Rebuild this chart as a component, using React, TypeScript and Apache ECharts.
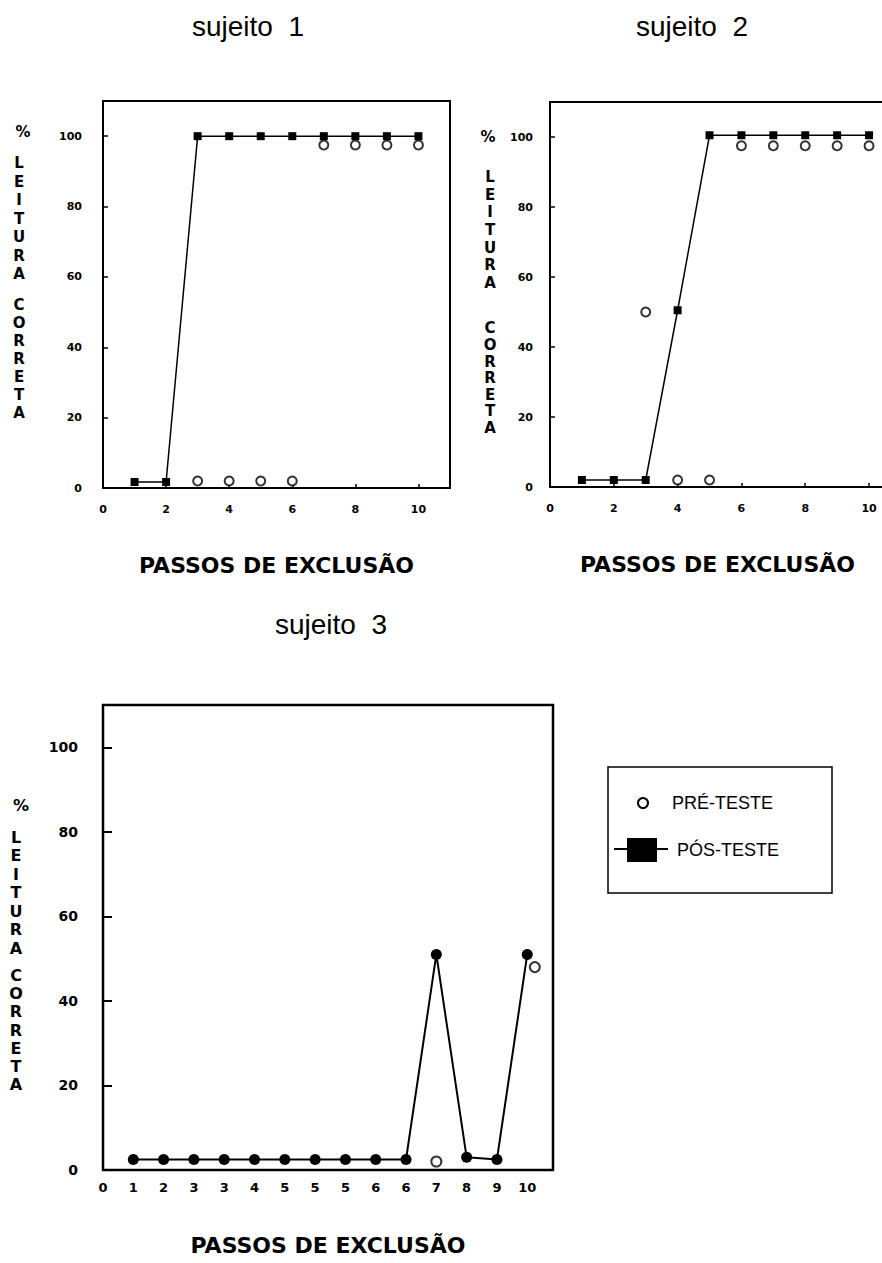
import React, { useEffect, useRef } from "react";
import * as echarts from "echarts";

// ---- data ----
const steps = [1, 2, 3, 4, 5, 6, 7, 8, 9, 10];
const s1Pos = [1.7, 1.7, 100, 100, 100, 100, 100, 100, 100, 100];
const s1Pre = [null, null, 2, 2, 2, 2, 97.5, 97.5, 97.5, 97.5];
const s2Pos = [2, 2, 2, 50.5, 100.5, 100.5, 100.5, 100.5, 100.5, 100.5];
const s2Pre = [null, null, 50, 2, 2, 97.5, 97.5, 97.5, 97.5, 97.5];

const s3Labels = ["0", "1", "2", "3", "3", "4", "5", "5", "5", "6", "6", "7", "8", "9", "10"];
const s3PosX = [1, 2, 3, 4, 5, 6, 7, 8, 9, 10, 11, 12, 13, 14];
const s3Pos = [2.5, 2.5, 2.5, 2.5, 2.5, 2.5, 2.5, 2.5, 2.5, 2.5, 51, 3, 2.5, 51];
const s3PreX = [11, 14.25];
const s3Pre = [2, 48];

const titles = ["sujeito  1", "sujeito  2", "sujeito  3"];
const xName = "PASSOS DE EXCLUSÃO";
const legendNames = ["PRÉ-TESTE", "PÓS-TESTE"];

function zip(xs: number[], ys: (number | null)[]) {
  const out: number[][] = [];
  xs.forEach((x, i) => {
    const y = ys[i];
    if (y !== null && y !== undefined) out.push([x, y]);
  });
  return out;
}

const BLACK = "#000";
const NUM_FONT = "DejaVu Sans";
const TXT_FONT = "Liberation Sans";

export default function App() {
  const ref = useRef<HTMLDivElement>(null);
  useEffect(() => {
    if (!ref.current) return;
    const chart = echarts.init(ref.current, undefined, { renderer: "svg" });

    const yAxisBase = (margin: number, fs: number, tickLen: number, tickW: number) => ({
      type: "value",
      min: 0,
      max: 110,
      interval: 20,
      axisLine: { show: false },
      splitLine: { show: false },
      axisTick: { show: true, inside: true, length: tickLen, lineStyle: { color: BLACK, width: tickW } },
      axisLabel: {
        margin,
        color: BLACK,
        fontFamily: NUM_FONT,
        fontWeight: "bold",
        fontSize: fs,
        formatter: (v: number) => (v <= 100 ? String(v) : ""),
      },
    });

    const nameStyle = {
      color: BLACK,
      fontFamily: NUM_FONT,
      fontWeight: "bold",
      fontSize: 22,
    };

    const vLetters = (x: number, y: number, word: string, lh: number, fs: number) => ({
      type: "text",
      x,
      y,
      style: {
        text: word.split("").join("\n"),
        fill: BLACK,
        font: `bold ${fs}px "${NUM_FONT}"`,
        lineHeight: lh,
        align: "center",
        verticalAlign: "top",
      },
    });

    const pct = (x: number, y: number, fs: number) => ({
      type: "text",
      x,
      y,
      style: {
        text: "%",
        fill: BLACK,
        font: `bold ${fs}px "${NUM_FONT}"`,
        align: "center",
        verticalAlign: "middle",
      },
    });

    const titleStyle = {
      fontFamily: TXT_FONT,
      fontSize: 28,
      fontWeight: "normal",
      color: BLACK,
    };

    const option: any = {
      animation: false,
      backgroundColor: "#fff",
      title: [
        { text: titles[0], left: 192, top: 12, padding: 0, textStyle: titleStyle },
        { text: titles[1], left: 636, top: 12, padding: 0, textStyle: titleStyle },
        { text: titles[2], left: 275, top: 610, padding: 0, textStyle: titleStyle },
      ],
      grid: [
        { left: 103, top: 101, width: 347, height: 387, show: true, borderColor: BLACK, borderWidth: 2, backgroundColor: "transparent", outerBoundsMode: "none" },
        { left: 550, top: 102, width: 335, height: 385, show: true, borderColor: BLACK, borderWidth: 2, backgroundColor: "transparent", outerBoundsMode: "none" },
        { left: 103, top: 705, width: 450, height: 465, show: true, borderColor: BLACK, borderWidth: 2.5, backgroundColor: "transparent", outerBoundsMode: "none" },
      ],
      xAxis: [
        {
          gridIndex: 0, type: "value", min: 0, max: 11, interval: 2,
          name: xName, nameLocation: "middle", nameGap: 66, nameTextStyle: nameStyle,
          axisLine: { show: false }, splitLine: { show: false },
          axisTick: { show: true, inside: true, length: 4, lineStyle: { color: BLACK, width: 1.5 } },
          axisLabel: { margin: 16, color: BLACK, fontFamily: NUM_FONT, fontWeight: "bold", fontSize: 11, formatter: (v: number) => (Number.isInteger(v) && v <= 10 ? String(v) : "") },
        },
        {
          gridIndex: 1, type: "value", min: 0, max: 10.5, interval: 2,
          name: xName, nameLocation: "middle", nameGap: 66, nameTextStyle: nameStyle,
          axisLine: { show: false }, splitLine: { show: false },
          axisTick: { show: true, inside: true, length: 4, lineStyle: { color: BLACK, width: 1.5 } },
          axisLabel: { margin: 16, color: BLACK, fontFamily: NUM_FONT, fontWeight: "bold", fontSize: 11, formatter: (v: number) => (Number.isInteger(v) && v <= 10 ? String(v) : "") },
        },
        {
          gridIndex: 2, type: "value", min: 0, max: 14.85, interval: 1,
          name: xName, nameLocation: "middle", nameGap: 64, nameTextStyle: nameStyle,
          axisLine: { show: false }, splitLine: { show: false },
          axisTick: { show: false },
          axisLabel: { margin: 11, color: BLACK, fontFamily: NUM_FONT, fontWeight: "bold", fontSize: 13, formatter: (v: number) => (Number.isInteger(v) && v < s3Labels.length ? s3Labels[v] : "") },
        },
      ],
      yAxis: [
        { gridIndex: 0, ...yAxisBase(21, 11, 5, 1.5) },
        { gridIndex: 1, ...yAxisBase(17, 11, 5, 1.5) },
        { gridIndex: 2, ...yAxisBase(25, 14, 9, 2) },
      ],
      series: [
        {
          type: "scatter", xAxisIndex: 0, yAxisIndex: 0, name: legendNames[0],
          data: zip(steps, s1Pre), symbol: "circle", symbolSize: 9,
          itemStyle: { color: "#fff", borderColor: BLACK, borderWidth: 2 },
        },
        {
          type: "line", xAxisIndex: 0, yAxisIndex: 0, name: legendNames[1],
          data: zip(steps, s1Pos), symbol: "rect", symbolSize: 8, showAllSymbol: true,
          itemStyle: { color: BLACK }, lineStyle: { color: BLACK, width: 1.5 },
        },
        {
          type: "scatter", xAxisIndex: 1, yAxisIndex: 1, name: legendNames[0],
          data: zip(steps, s2Pre), symbol: "circle", symbolSize: 9,
          itemStyle: { color: "#fff", borderColor: BLACK, borderWidth: 2 },
        },
        {
          type: "line", xAxisIndex: 1, yAxisIndex: 1, name: legendNames[1],
          data: zip(steps, s2Pos), symbol: "rect", symbolSize: 8, showAllSymbol: true,
          itemStyle: { color: BLACK }, lineStyle: { color: BLACK, width: 1.5 },
        },
        {
          type: "line", xAxisIndex: 2, yAxisIndex: 2, name: legendNames[1],
          data: zip(s3PosX, s3Pos), symbol: "circle", symbolSize: 11, showAllSymbol: true,
          itemStyle: { color: BLACK }, lineStyle: { color: BLACK, width: 2 },
        },
        {
          type: "scatter", xAxisIndex: 2, yAxisIndex: 2, name: legendNames[0],
          data: zip(s3PreX, s3Pre), symbol: "circle", symbolSize: 10,
          itemStyle: { color: "#fff", borderColor: BLACK, borderWidth: 2 },
        },
      ],
      graphic: [
        pct(23, 132, 15),
        vLetters(19, 154, "LEITURA", 18.5, 15),
        vLetters(19, 296, "CORRETA", 18, 15),
        pct(488, 137, 15),
        vLetters(490, 168, "LEITURA", 17.7, 15),
        vLetters(490, 320, "CORRETA", 16.6, 15),
        pct(21, 805, 16),
        vLetters(16, 828, "LEITURA", 18.5, 16),
        vLetters(16, 966, "CORRETA", 18.3, 16),
        // legend box
        {
          type: "rect",
          shape: { x: 608, y: 767, width: 224, height: 126 },
          style: { fill: "none", stroke: BLACK, lineWidth: 1.5 },
        },
        {
          type: "circle",
          shape: { cx: 643, cy: 803, r: 5 },
          style: { fill: "#fff", stroke: BLACK, lineWidth: 2 },
        },
        {
          type: "text",
          x: 672,
          y: 803,
          style: { text: legendNames[0], fill: BLACK, font: `18px "${TXT_FONT}"`, verticalAlign: "middle", align: "left" },
        },
        {
          type: "line",
          shape: { x1: 614, y1: 849, x2: 668, y2: 849 },
          style: { stroke: BLACK, lineWidth: 2 },
        },
        {
          type: "rect",
          shape: { x: 627, y: 838, width: 30, height: 24 },
          style: { fill: BLACK },
        },
        {
          type: "text",
          x: 677,
          y: 850,
          style: { text: legendNames[1], fill: BLACK, font: `18px "${TXT_FONT}"`, verticalAlign: "middle", align: "left" },
        },
      ],
    };

    chart.setOption(option);
    return () => chart.dispose();
  }, []);

  return (
    <div
      ref={ref}
      style={{ position: "absolute", left: 0, top: 0, width: 882, height: 1263, background: "#fff" }}
    />
  );
}
